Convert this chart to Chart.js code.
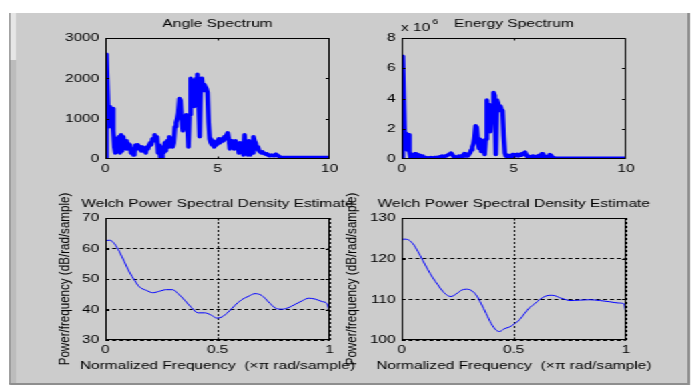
<!DOCTYPE html>
<html lang="en">
<head>
<meta charset="UTF-8">
<title>Angle and Energy Spectrum</title>
<script src="https://cdn.jsdelivr.net/npm/chart.js@4.4.0/dist/chart.umd.min.js"></script>
<style>
  html, body { margin: 0; padding: 0; background: #fff; overflow: hidden; }
  /* figure is laid out at 520px and widened to the window */
  #figure { position: absolute; left: 0; top: 0; width: 520px; height: 387px; transform: scaleX(1.3346); transform-origin: 0 0; }
  .panel { position: absolute; left: 7px; top: 13px; width: 509px; height: 371px; background: #cccccc; }
  .edge-left { position: absolute; left: 7px; top: 13px; width: 5px; height: 371px; background: #bcbcbc; border-left: 1px solid #8e8e8e; box-sizing: border-box; }
  .edge-left-top { position: absolute; left: 8px; top: 13px; width: 4px; height: 47px; background: #e6e6e6; }
  .edge-right { position: absolute; left: 515px; top: 13px; width: 2px; height: 372px; background: #8a8a8a; }
  .edge-bottom { position: absolute; left: 7px; top: 383px; width: 510px; height: 2px; background: #8e8e8e; }
  canvas { position: absolute; }
</style>
</head>
<body>
<div id="figure">
  <div class="panel"></div>
  <div class="edge-left"></div>
  <div class="edge-left-top"></div>
  <div class="edge-right"></div>
  <div class="edge-bottom"></div>
  <canvas id="angleChart" width="268" height="176" style="left:29px;top:14px"></canvas>
  <canvas id="energyChart" width="268" height="176" style="left:251px;top:14px"></canvas>
  <canvas id="welchAngleChart" width="268" height="195" style="left:29px;top:190px"></canvas>
  <canvas id="welchEnergyChart" width="268" height="195" style="left:251px;top:190px"></canvas>
</div>
<script>
// spectra sampled every 0.05 from 0 up to where they flatten out
const freqStep = 0.05;

const angleMag = [
  0, 2600, 1700, 800, 1300, 800, 1250, 700, 300, 150,
  500, 200, 550, 150, 600, 200, 550, 300, 450, 250,
  400, 300, 350, 150, 250, 100, 150, 350, 300, 350,
  250, 300, 200, 300, 200, 250, 150, 300, 250, 350,
  400, 350, 500, 450, 600, 500, 550, 150, 350, 50,
  0, 300, 150, 400, 200, 450, 300, 550, 400, 500,
  300, 400, 800, 900, 1000, 1150, 1500, 1450, 1000, 700,
  1000, 800, 1100, 900, 300, 1100, 2000, 1500, 1950, 1300,
  1400, 2000, 2100, 1500, 550, 1900, 2000, 1700, 1850, 1800,
  1750, 1650, 900, 500, 400, 350, 450, 300, 400, 350,
  450, 500, 400, 450, 500, 450, 550, 500, 600, 650,
  500, 250, 450, 300, 400, 250, 450, 300, 350, 150,
  400, 200, 350, 100, 600, 250, 400, 100, 450, 100,
  300, 150, 550, 450, 400, 250, 300, 200, 200, 150,
  180, 150, 130, 120, 130, 100, 80, 80, 100, 90,
  80, 100, 120, 100, 80, 60, 40, 35, 35, 35,
  35
];
const angleTail = 35;

// energy in units of 1e6
const energyMag = [
  0, 6.8, 3.7, 0.7, 1.7, 0.6, 1.6, 0.5, 0.1, 0.05,
  0.3, 0.05, 0.35, 0.1, 0.3, 0.05, 0.25, 0.1, 0.2, 0.05,
  0.1, 0.05, 0.1, 0.05, 0.08, 0.05, 0.1, 0.06, 0.05, 0.1,
  0.08, 0.1, 0.12, 0.1, 0.15, 0.12, 0.2, 0.15, 0.18, 0.2,
  0.2, 0.25, 0.3, 0.35, 0.4, 0.3, 0.2, 0.1, 0.15, 0.05,
  0.05, 0.2, 0.1, 0.2, 0.15, 0.25, 0.35, 0.2, 0.3, 0.2,
  0.3, 0.4, 0.6, 0.8, 1.0, 1.4, 2.2, 2.1, 1.2, 0.7,
  1.3, 0.5, 1.2, 0.9, 0.3, 1.3, 3.9, 2.2, 3.6, 1.8,
  3.5, 2.8, 4.4, 4.2, 0.3, 3.9, 3.7, 3.2, 3.5, 3.3,
  3.2, 1.5, 0.4, 0.2, 0.15, 0.25, 0.1, 0.2, 0.1, 0.3,
  0.2, 0.3, 0.25, 0.3, 0.2, 0.3, 0.25, 0.35, 0.3, 0.4,
  0.45, 0.3, 0.15, 0.2, 0.1, 0.15, 0.05, 0.2, 0.1, 0.15,
  0.1, 0.2, 0.1, 0.25, 0.05, 0.35, 0.15, 0.1, 0.2, 0.05,
  0.15, 0.1, 0.3, 0.25, 0.15, 0.1, 0.08, 0.05, 0.05, 0.05,
  0.05
];
const energyTail = 0.05;

// Welch PSD estimates, normalized frequency (x pi rad/sample) vs dB/rad/sample
const welchAngleFreq = [0, 0.003, 0.02, 0.04, 0.063, 0.085, 0.107, 0.13, 0.152, 0.182,
  0.212, 0.242, 0.27, 0.30, 0.324, 0.354, 0.384, 0.413, 0.443, 0.473,
  0.496, 0.518, 0.548, 0.578, 0.607, 0.637, 0.667, 0.697, 0.727, 0.757,
  0.787, 0.816, 0.846, 0.876, 0.906, 0.936, 0.966, 0.988, 1.0];
const welchAngleDb = [59.9, 62.6, 62.7, 61.6, 58.9, 55.6, 52.3, 49.6, 47.4, 46.3,
  45.5, 46.0, 46.5, 46.5, 45.2, 43.0, 40.6, 38.9, 38.9, 38.1,
  37.2, 37.5, 39.2, 41.4, 43.2, 44.3, 45.2, 44.6, 42.5, 40.5,
  40.1, 40.6, 41.7, 42.8, 43.7, 43.4, 42.6, 41.9, 39.2];

const welchEnergyFreq = [0, 0.004, 0.012, 0.027, 0.05, 0.072, 0.094, 0.116, 0.139, 0.161,
  0.183, 0.206, 0.22, 0.243, 0.265, 0.288, 0.31, 0.332, 0.355, 0.377,
  0.40, 0.422, 0.437, 0.459, 0.481, 0.504, 0.526, 0.548, 0.571, 0.593,
  0.616, 0.638, 0.66, 0.683, 0.705, 0.727, 0.75, 0.794, 0.839, 0.884,
  0.928, 0.966, 0.991, 1.0];
const welchEnergyDb = [121.6, 124.6, 124.8, 124.7, 123.7, 121.8, 119.6, 117.4, 115.3, 113.6,
  112.0, 110.9, 110.7, 111.3, 112.2, 112.5, 112.2, 111.1, 108.9, 106.5,
  104.0, 102.4, 102.1, 102.8, 103.2, 104.0, 105.0, 106.5, 108.0, 108.9,
  110.0, 110.7, 111.0, 110.9, 110.4, 110.0, 109.7, 109.8, 109.9, 109.7,
  109.4, 109.1, 108.9, 106.1];

const psdXLabel = 'Normalized Frequency  (\u00d7\u03c0 rad/sample)';
const psdYLabel = 'Power/frequency (dB/rad/sample)';

const FONT = { family: "'Liberation Sans', Arial, sans-serif", size: 11.6, weight: 'normal' };
const INK = '#000000';

function stepped(values, tail) {
  const pts = values.map((v, i) => ({ x: i * freqStep, y: v }));
  pts.push({ x: 10, y: tail });
  return pts;
}
const zip = (xs, ys) => xs.map((x, i) => ({ x, y: ys[i] }));

// box around the axes, inward tick marks and the "x 10^n" multiplier
const matlabAxes = {
  id: 'matlabAxes',
  afterDraw(chart, args, opts) {
    const { ctx, chartArea: a, scales } = chart;
    const l = Math.round(a.left), t = Math.round(a.top), r = Math.round(a.right), b = Math.round(a.bottom);
    ctx.save();
    ctx.strokeStyle = '#000';
    ctx.lineWidth = 1;
    ctx.beginPath();
    scales.x.ticks.forEach(tk => {
      const px = Math.round(scales.x.getPixelForValue(tk.value)) + 0.5;
      if (px < l + 2 || px > r - 2) return;
      ctx.moveTo(px, b); ctx.lineTo(px, b - 2.5);
      ctx.moveTo(px, t); ctx.lineTo(px, t + 2.5);
    });
    scales.y.ticks.forEach(tk => {
      const py = Math.round(scales.y.getPixelForValue(tk.value)) + 0.5;
      if (py < t + 2 || py > b - 2) return;
      ctx.moveTo(l, py); ctx.lineTo(l + 3, py);
      ctx.moveTo(r, py); ctx.lineTo(r - 3, py);
    });
    ctx.stroke();
    ctx.strokeRect(l + 0.5, t + 0.5, r - l - 1, b - t - 1);
    if (opts.exponent) {
      ctx.fillStyle = INK;
      ctx.textBaseline = 'middle';
      ctx.textAlign = 'left';
      ctx.font = `${FONT.size}px ${FONT.family}`;
      const base = 'x 10';
      ctx.fillText(base, l - 0.5, t - 10.5);
      const w = ctx.measureText(base).width;
      ctx.font = `8px ${FONT.family}`;
      ctx.fillText(opts.exponent, l + w + 1, t - 16.5);
    }
    ctx.restore();
  }
};

function makeChart(id, cfg) {
  const ticks = (step) => ({
    stepSize: step, color: INK, font: FONT, autoSkip: false, maxRotation: 0,
    callback: v => String(v)
  });
  return new Chart(document.getElementById(id), {
    type: 'line',
    data: {
      datasets: [{
        data: cfg.points,
        borderColor: '#0000ff',
        borderWidth: cfg.lineWidth,
        borderJoinStyle: 'round',
        borderCapStyle: 'round',
        pointRadius: 0,
        fill: false,
        tension: cfg.smooth ? 0.4 : 0,
        cubicInterpolationMode: cfg.smooth ? 'monotone' : 'default'
      }]
    },
    options: {
      responsive: false,
      animation: false,
      devicePixelRatio: 1,
      layout: { padding: 0 },
      plugins: {
        legend: { display: false },
        tooltip: { enabled: false },
        title: {
          display: true, text: cfg.title, color: INK, font: FONT,
          padding: { top: cfg.titlePad[0], bottom: cfg.titlePad[1] }
        },
        subtitle: cfg.xLabel ? {
          display: true, position: 'bottom', text: cfg.xLabel, color: INK, font: FONT,
          padding: { top: 0, bottom: 12.04 }
        } : { display: false },
        matlabAxes: { exponent: cfg.exponent || null }
      },
      scales: {
        x: {
          type: 'linear', min: cfg.x[0], max: cfg.x[1],
          afterFit: s => { s.height = cfg.xAxisHeight; },
          ticks: { ...ticks(cfg.x[2]), padding: 3.3 },
          grid: { display: !!cfg.grid, color: '#000', lineWidth: 1, drawTicks: false },
          border: { display: false, dash: [2, 2] }
        },
        y: {
          type: 'linear', min: cfg.y[0], max: cfg.y[1],
          afterFit: s => { s.width = 50; },
          ticks: { ...ticks(cfg.y[2]), padding: 4.5 },
          grid: { display: !!cfg.grid, color: '#000', lineWidth: 1, drawTicks: false },
          border: { display: false, dash: [3, 2.2] },
          title: cfg.yLabel ? {
            display: true, text: cfg.yLabel, color: INK, font: FONT,
            padding: { top: cfg.yLabelPad, bottom: 0 }
          } : { display: false }
        },
        // empty right-hand axis, same width as the left one, keeps titles centred on the plot
        yRight: {
          type: 'linear', position: 'right', display: true,
          afterFit: s => { s.width = 50; },
          ticks: { display: false },
          grid: { display: false, drawTicks: false },
          border: { display: false }
        }
      }
    },
    plugins: [matlabAxes]
  });
}

makeChart('angleChart', {
  title: 'Angle Spectrum', titlePad: [3.04, 7.04],
  points: stepped(angleMag, angleTail), lineWidth: 3.5,
  x: [0, 10, 5], y: [0, 3000, 1000], xAxisHeight: 31
});

makeChart('energyChart', {
  title: 'Energy Spectrum', titlePad: [3.04, 7.04], exponent: '6',
  points: stepped(energyMag, energyTail), lineWidth: 3.5,
  x: [0, 10, 5], y: [0, 8, 2], xAxisHeight: 31
});

makeChart('welchAngleChart', {
  title: 'Welch Power Spectral Density Estimate', titlePad: [7.04, 7.04],
  points: zip(welchAngleFreq, welchAngleDb), lineWidth: 1, smooth: true, grid: true,
  x: [0, 1, 0.5], y: [30, 70, 10], xAxisHeight: 19.04,
  xLabel: psdXLabel, yLabel: psdYLabel, yLabelPad: 12.74
});

makeChart('welchEnergyChart', {
  title: 'Welch Power Spectral Density Estimate', titlePad: [7.04, 7.04],
  points: zip(welchEnergyFreq, welchEnergyDb), lineWidth: 1, smooth: true, grid: true,
  x: [0, 1, 0.5], y: [100, 130, 10], xAxisHeight: 19.04,
  xLabel: psdXLabel, yLabel: psdYLabel, yLabelPad: 5.54
});
</script>
</body>
</html>
